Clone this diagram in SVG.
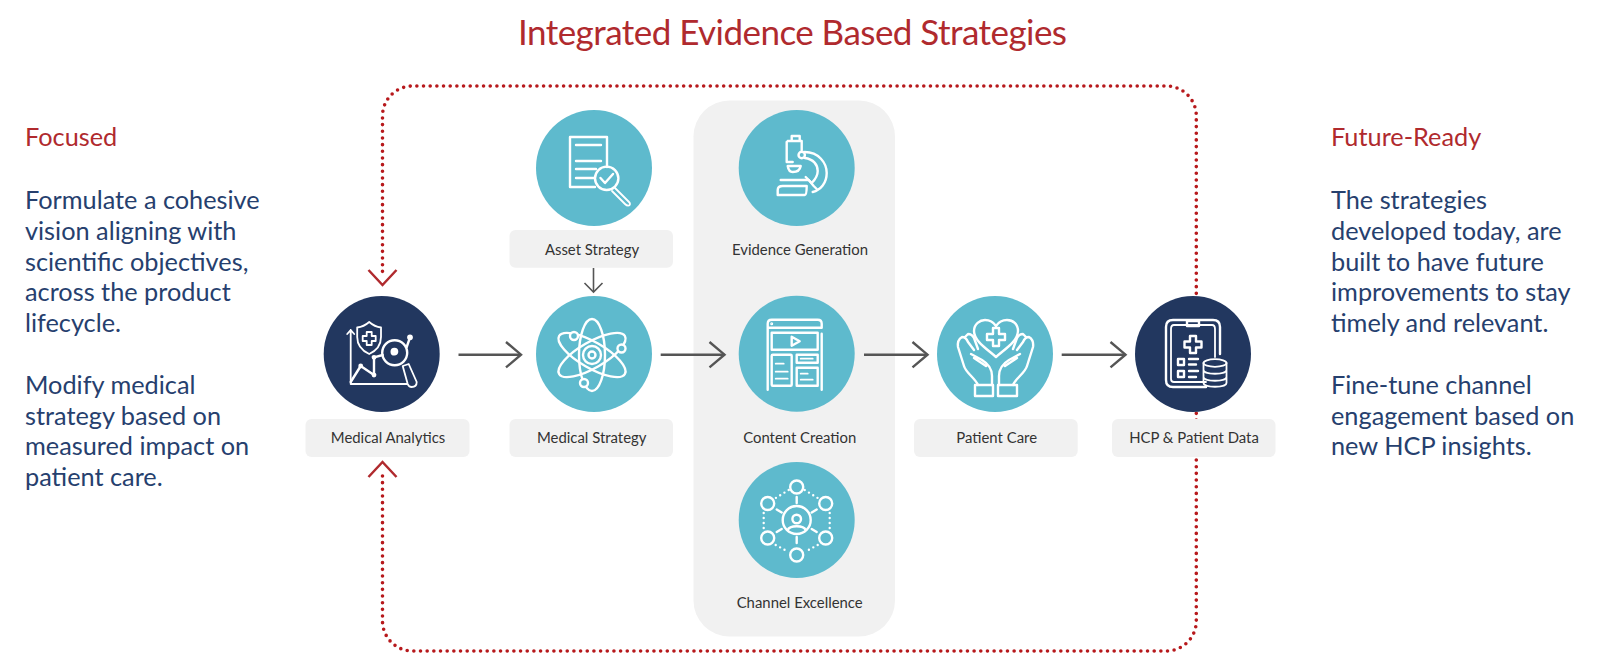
<svg xmlns="http://www.w3.org/2000/svg" width="1600" height="664" viewBox="0 0 1600 664">
<style>
text{font-family:Lato,"Liberation Sans",sans-serif}
.title{font-size:35px;fill:#B02A2E}
.head{font-size:25.300px;fill:#B02A2E}
.body{font-size:25.300px;fill:#26406E}
.lab{font-size:14.900px;fill:#333;text-anchor:middle}
.teal{fill:#5EBACD}.navy{fill:#22375F}
.box{fill:#F1F1F1}
.ic{fill:none;stroke:#fff;stroke-width:1.8;stroke-linecap:round;stroke-linejoin:round}
.tk{stroke-width:2.4}
.dot{fill:none;stroke:#B7191C;stroke-width:3.6;stroke-linecap:round;stroke-dasharray:0 6.67}
.flow{fill:none;stroke:#555;stroke-width:2.4}
.thin{fill:none;stroke:#555;stroke-width:1.6}
</style>
<defs>
<marker id="head" markerUnits="userSpaceOnUse" markerWidth="40" markerHeight="40" refX="20" refY="20" orient="auto"><path d="M5,7.300L20,20L5,32.700" fill="none" stroke="#555" stroke-width="2.400"/></marker>
<marker id="headS" markerUnits="userSpaceOnUse" markerWidth="30" markerHeight="30" refX="15" refY="15" orient="auto"><path d="M6,6L15,15L6,24" fill="none" stroke="#555" stroke-width="1.600"/></marker>
<marker id="chev" markerUnits="userSpaceOnUse" markerWidth="40" markerHeight="40" refX="10" refY="20" orient="auto"><path d="M8,6L23,20L8,34" fill="none" stroke="#B02A2E" stroke-width="2.500"/></marker>
</defs>
<rect width="1600" height="664" fill="#fff"/>
<text class="title" x="518" y="45" textLength="549">Integrated Evidence Based Strategies</text>
<g id="focused">
<text class="head" x="25" y="146">Focused</text>
<text class="body" x="25" y="209">Formulate a cohesive</text>
<text class="body" x="25" y="240">vision aligning with</text>
<text class="body" x="25" y="271">scientific objectives,</text>
<text class="body" x="25" y="301">across the product</text>
<text class="body" x="25" y="332">lifecycle.</text>
<text class="body" x="25" y="394">Modify medical</text>
<text class="body" x="25" y="425">strategy based on</text>
<text class="body" x="25" y="455">measured impact on</text>
<text class="body" x="25" y="486">patient care.</text>
</g>
<g id="future-ready">
<text class="head" x="1331" y="146">Future-Ready</text>
<text class="body" x="1331" y="209">The strategies</text>
<text class="body" x="1331" y="240">developed today, are</text>
<text class="body" x="1331" y="271">built to have future</text>
<text class="body" x="1331" y="301">improvements to stay</text>
<text class="body" x="1331" y="332">timely and relevant.</text>
<text class="body" x="1331" y="394">Fine-tune channel</text>
<text class="body" x="1331" y="425">engagement based on</text>
<text class="body" x="1331" y="455">new HCP insights.</text>
</g>
<rect id="panel" class="box" x="693.500" y="100.500" width="201.500" height="536" rx="36"/>
<g id="connectors">
<path class="dot" d="M1196.300,300V116A30,30 0 0 0 1166.300,86H412.500A30,30 0 0 0 382.500,116V272" marker-end="url(#chev)"/>
<path class="dot" d="M1196.300,400V621A30,30 0 0 1 1166.300,651H412.500A30,30 0 0 1 382.500,621V475" marker-end="url(#chev)"/>
<path class="flow" d="M458.500,354.700H521" marker-end="url(#head)"/>
<path class="flow" d="M660.700,354.700H724.500" marker-end="url(#head)"/>
<path class="flow" d="M864,354.700H927.500" marker-end="url(#head)"/>
<path class="flow" d="M1061.700,354.700H1125.500" marker-end="url(#head)"/>
<path class="thin" d="M593.500,268V292" marker-end="url(#headS)"/>
</g>
<g id="medical-analytics">
<rect class="box" x="305.500" y="419" width="164" height="38" rx="6"/>
<text class="lab" x="388" y="443.300">Medical Analytics</text>
<circle class="navy" cx="381.700" cy="354" r="58"/>
<g class="ic" transform="translate(381.700,354)">
<path d="M-31,-24V30H25M-34.500,-20L-31,-24L-27.500,-20"/>
<path d="M-12.500,-32C-17,-28 -20,-27 -24.500,-26.500V-17C-24.500,-9 -19,-3 -12.500,0C-6,-3 -0.700,-9 -0.700,-17V-26.500C-5,-27 -8,-28 -12.500,-32Z"/>
<path d="M-15,-22h5v4h4v5h-4v4h-5v-4h-4v-5h4z"/>
<path class="tk" d="M-31,28L-21,12L-7.700,21V3.300L1,1M25,-7L28.300,-16.700"/>
<circle cx="13" cy="-1.300" r="12.500" class="tk"/>
<path d="M21,12L27,10L35,28Q35,33 30,33Q27,33 26,30Z"/>
<circle cx="-21" cy="12" r="1.500" fill="#fff"/><circle cx="-7.700" cy="21" r="1.500" fill="#fff"/><circle cx="-7.700" cy="3.300" r="1.500" fill="#fff"/><circle cx="12.700" cy="-2.300" r="3" fill="#fff"/><circle cx="28.300" cy="-16.700" r="2" fill="#fff"/>
</g>
</g>
<g id="asset-strategy">
<circle class="teal" cx="594" cy="168" r="58"/>
<rect class="box" x="509.500" y="230" width="163.500" height="37.700" rx="6"/>
<text class="lab" x="592" y="254.500">Asset Strategy</text>
<g class="ic" transform="translate(594,168)">
<path class="tk" d="M1,19H-24V-31H13V-1"/>
<path class="tk" d="M-18,-23H7M-18,-7H7M-18,1H2M-18,10H0"/>
<circle cx="12.700" cy="10.300" r="11.700" class="tk"/>
<path class="tk" d="M6.500,10L11,15L19,6"/>
<path d="M21,20L35,34Q37,36 35,37.500Q33,38 31,36L18,23"/>
</g>
</g>
<g id="medical-strategy">
<rect class="box" x="509.500" y="419" width="163.500" height="38" rx="6"/>
<text class="lab" x="591.700" y="443.300">Medical Strategy</text>
<circle class="teal" cx="594" cy="354" r="58"/>
<g class="ic tk" transform="translate(592,355)">
<ellipse rx="13" ry="36"/>
<ellipse rx="38" ry="13" transform="rotate(30)"/>
<ellipse rx="38" ry="13" transform="rotate(-30)"/>
<circle r="9"/><circle r="3.500"/>
<circle cx="-18" cy="-19" r="4" class="teal"/><circle cx="29.500" cy="-6.500" r="4" class="teal"/><circle cx="-8" cy="28" r="4" class="teal"/>
</g>
</g>
<g id="evidence-generation">
<circle class="teal" cx="796.700" cy="168" r="58"/>
<text class="lab" x="800" y="255">Evidence Generation</text>
<g class="ic tk" transform="translate(796.700,168)">
<path d="M-5,-27V-32H3V-27M-9,-27H5V-18M-10,-26V-6H-4"/>
<path d="M-9,-2H4Q3,4 -4,4Q-8,4 -9,-2Z"/>
<circle cx="5" cy="-13" r="3.200"/>
<path d="M8,-16C22,-16 30,-5 30,5C30,15 24,22 16,24"/>
<path d="M8,-10C17,-9 21,-3 21,3C21,9 17,13 15,15L9,9"/>
<path d="M-16,12H12L17,18L20,21M-14,18H10Q10,27 8,27H-19V22Q-19,18 -14,18Z"/>
</g>
</g>
<g id="content-creation">
<circle class="teal" cx="796.700" cy="353.700" r="58"/>
<text class="lab" x="799.700" y="443.300">Content Creation</text>
<g class="ic" transform="translate(796.700,353.700)">
<path class="tk" d="M-29,36V-30Q-29,-34 -25,-34H21Q25,-34 25,-30V-26H-29M25,-20V36"/>
<circle cx="-25" cy="-30" r="0.600"/>
<rect class="tk" x="-25" y="-21" width="46" height="17"/>
<path class="tk" d="M-5,-17L3,-12.500L-5,-8Z"/>
<rect class="tk" x="-25" y="1" width="20" height="31" rx="1"/>
<rect class="tk" x="0" y="1" width="21" height="8"/>
<rect class="tk" x="0" y="14" width="21" height="18"/>
<path d="M-21,10H-13M-21,18H-9M-21,25H-9M4,5H16M4,20H11M4,26H16"/>
</g>
</g>
<g id="channel-excellence">
<circle class="teal" cx="796.700" cy="520" r="58"/>
<text class="lab" x="799.700" y="608">Channel Excellence</text>
<g class="ic tk" transform="translate(796.700,520)">
<circle r="14"/><circle cy="-1" r="4.300"/>
<path d="M-9,10C-7,5 7,5 9,10"/>
<circle cy="-33" r="6.500"/><circle cx="29" cy="-16.500" r="6.500"/><circle cx="29" cy="18" r="6.500"/><circle cy="35" r="6.500"/><circle cx="-29" cy="18" r="6.500"/><circle cx="-29" cy="-16.500" r="6.500"/>
<path d="M0,-23V-17M0,17V23M20,-10.500L15,-7.500M-20,-10.500L-15,-7.500M20,12L15,9M-20,12L-15,9"/>
<path stroke-dasharray="0 5" d="M8,-30L21,-22M-8,-30L-21,-22M33,-7V9M-33,-7V9M21,25L8,32M-21,25L-8,32"/>
</g>
</g>
<g id="patient-care">
<rect class="box" x="914" y="419" width="163.700" height="38" rx="6"/>
<text class="lab" x="996.700" y="443.300">Patient Care</text>
<circle class="teal" cx="995" cy="354" r="58"/>
<g class="ic tk" transform="translate(995,354)">
<path d="M1,3C-8,-5 -21,-13 -21,-23C-21,-30 -15,-34 -10,-34C-5,-34 -1,-31 1,-28C3,-31 7,-34 12,-34C18,-34 23,-30 23,-23C23,-13 10,-5 1,3Z"/>
<path d="M-2,-26h6v6h6v6h-6v6h-6v-6h-6v-6h6z"/>
<path d="M-17,31C-20,24 -29,19 -31,12L-37,-7Q-38,-14 -33,-17Q-29,-17 -27,-12L-21,-4M-30,-17L-27,-20Q-23,-20 -21,-16L-17,-5M-24,0L-13,6Q-3,12 -3,22V31M-21,4L-9,12"/>
<path d="M18,31C21,24 30,19 32,12L38,-7Q39,-14 34,-17Q30,-17 28,-12L22,-4M31,-17L28,-20Q24,-20 22,-16L18,-5M25,0L14,6Q4,12 4,22V31M22,4L10,12"/>
<rect x="-20" y="31" width="18" height="11"/><rect x="3" y="31" width="19" height="11"/>
</g>
</g>
<g id="hcp-patient-data">
<rect class="box" x="1112" y="419" width="163.500" height="38" rx="6"/>
<text class="lab" x="1194" y="443.300">HCP &amp; Patient Data</text>
<circle class="navy" cx="1193" cy="354" r="58"/>
<g class="ic" transform="translate(1193,354)">
<path class="tk" d="M13,33H-20Q-27,33 -27,26V-27Q-27,-34 -20,-34H20Q27,-34 27,-27V0"/>
<path d="M13,28H-19Q-22,28 -22,25V-25Q-22,-29 -19,-29H19Q22,-29 22,-25V3"/>
<rect class="tk" x="-6" y="-33" width="12" height="5"/>
<path class="tk" d="M-3,-18h6v5.500h5.500v6h-5.500v5.500h-6v-5.500h-5.500v-6h5.500z"/>
<rect class="tk" x="-15" y="5" width="6" height="6"/><rect class="tk" x="-15" y="17" width="6" height="6"/>
<path class="tk" d="M-4,5H5M-4,10.500H3M-4,17H5M-4,23H3"/>
<ellipse cx="22" cy="9" rx="11.500" ry="3.800"/>
<path d="M10.500,9V29C10.500,34 33.500,34 33.500,29V9M10.500,16C10.500,21 33.500,21 33.500,16M10.500,23C10.500,28 33.500,28 33.500,23"/>
</g>
</g>
</svg>
